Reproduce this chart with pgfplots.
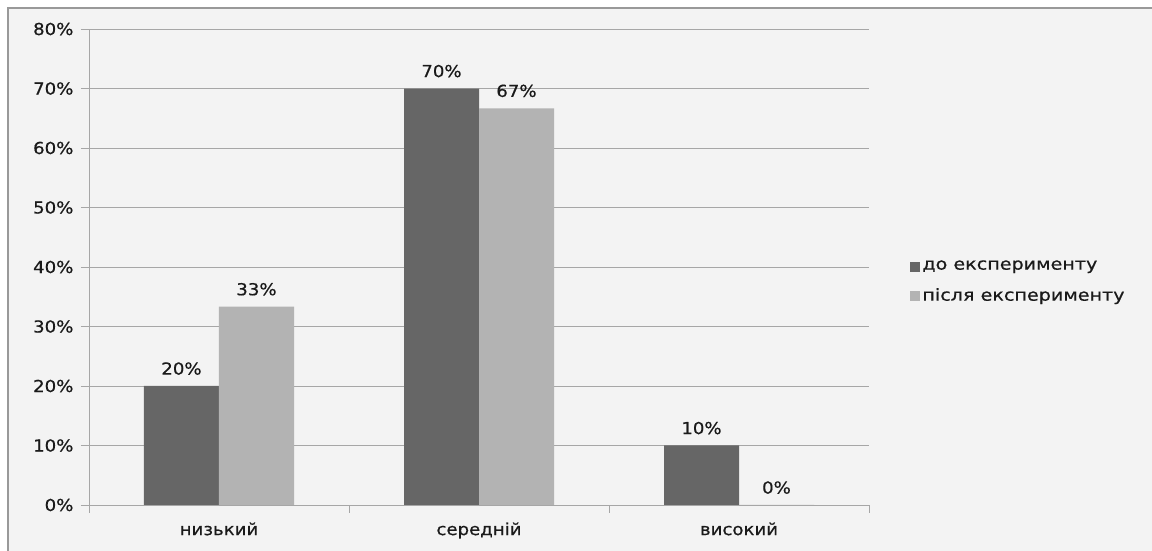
\documentclass[border=0pt]{standalone}
\usepackage{pgfplots}
\pgfplotsset{compat=1.18}
\usepackage{fontspec}
\setmainfont[FakeStretch=1.1, FakeBold=0.6]{DejaVu Sans}
\newfontfamily\legfont[FakeStretch=1.16, FakeBold=0.6]{DejaVu Sans}
\definecolor{bgc}{HTML}{F3F3F3}
\definecolor{frm}{HTML}{999999}
\definecolor{grd}{HTML}{A6A6A6}
\definecolor{darkbar}{HTML}{666666}
\definecolor{lightbar}{HTML}{B3B3B3}
\definecolor{txt}{HTML}{1A1A1A}
\begin{document}
\begin{tikzpicture}
\useasboundingbox (0,0) rectangle (1152pt,551pt);
\fill[white] (0,0) rectangle (1152pt,551pt);
\fill[bgc] (8pt,0) rectangle (1152pt,543pt);
\draw[frm, line width=1.5pt] (8pt,0) -- (8pt,543pt) -- (1152pt,543pt);
\begin{axis}[
  at={(89pt,46pt)}, anchor=south west,
  scale only axis, width=780pt, height=476pt,
  ybar=0pt, bar width=75pt,
  xmin=-0.5, xmax=2.5, ymin=0, ymax=80,
  axis x line*=bottom, axis y line*=left,
  axis line style={grd, line width=0.8pt},
  xtick={0,1,2}, xticklabels={низький, середній, високий},
  minor xtick={-0.5,0.5,1.5,2.5},
  major x tick style={draw=none},
  minor x tick style={grd, line width=0.8pt},
  minor tick length=8pt,
  ytick={0,10,...,80},
  yticklabel={\pgfmathprintnumber{\tick}\%},
  tick align=outside,
  major tick length=8pt,
  y tick style={grd, line width=0.8pt},
  ymajorgrids, major grid style={grd, line width=0.8pt},
  /pgf/number format/assume math mode=true,
  tick label style={font=\fontsize{16.5}{19}\selectfont, text=txt},
  yticklabel style={xshift=-4pt},
  xticklabel style={yshift=-6pt},
  nodes near coords, point meta=explicit symbolic,
  every node near coord/.append style={font=\fontsize{16.5}{19}\selectfont, text=txt, inner sep=0pt, anchor=south, yshift=11pt},
  legend style={at={(1.049,0.47)}, anchor=west, draw=none, fill=none,
    font=\legfont\fontsize{16.5}{19}\selectfont, text=txt, row sep=13pt,
    legend cell align=left},
  legend image code/.code={\fill[#1] (0pt,-6pt) rectangle (10pt,4pt);},
]
\addplot[fill=darkbar, draw=none] coordinates {(0,20) [20\%] (1,70) [70\%] (2,10) [10\%]};
\addlegendentry{до експерименту}
\addplot[fill=lightbar, draw=none] coordinates {(0,33.33) [33\%] (1,66.67) [67\%] (2,0) [0\%]};
\addlegendentry{після експерименту}
\end{axis}
\end{tikzpicture}
\end{document}
